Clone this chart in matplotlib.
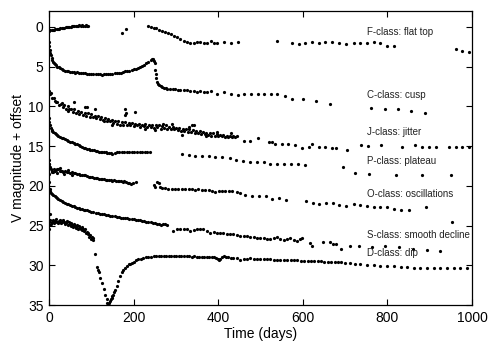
import matplotlib
matplotlib.use("Agg")
import matplotlib.pyplot as plt

plt.rcParams['font.family'] = ['Liberation Sans', 'DejaVu Sans']

# ---------------- data (days, V magnitude + offset) ----------------
f_day = [0,3,6,9,12,15,18,21,24,27,30,33,36,39,42,45,48,51,54,57,60,63,66,69,72,75,78,81,84,87,90,93,
         173,182,
         233,240,247,254,261,268,275,282,289,296,303,310,318,326,334,342,350,358,366,374,382,390,
         398,414,430,446,540,
         574,590,606,622,638,653,670,686,702,720,736,752,768,783,799,815,
         961,977,992]
f_mag = [0.50,0.45,0.42,0.38,0.35,0.30,0.28,0.25,0.22,0.20,0.15,0.12,0.10,0.08,0.05,0.02,0.00,-0.02,-0.05,-0.08,-0.10,-0.10,-0.12,-0.15,-0.18,-0.15,-0.20,-0.15,-0.12,-0.18,-0.10,-0.08,
         0.72,0.30,
         -0.13,-0.02,0.10,0.20,0.35,0.50,0.60,0.75,0.95,1.15,1.30,1.50,1.75,1.95,2.05,2.00,1.90,1.85,2.05,2.00,1.80,2.00,
         2.05,1.95,2.00,1.85,1.73,
         2.06,2.15,2.06,1.94,2.06,1.86,1.86,2.06,2.19,2.06,2.06,2.00,1.95,2.06,2.40,2.40,
         2.82,3.00,3.12]

c_day = [0,1,2,3,4,6,8,10,12,14,17,20,23,26,30,34,38,42,46,50,54,58,62,66,70,
         75,80,85,90,95,100,105,110,115,120,125,130,135,140,145,150,155,160,165,170,175,180,185,190,195,200,
         205,210,215,220,225,230,235,240,
         243,246,248,250,251,252,254,256,258,261,264,268,272,276,280,
         286,292,298,304,310,318,326,334,342,350,358,366,374,383,
         398,414,430,446,461,477,493,509,525,540,558,574,600,631,663,
         761,793,824,856,888]
c_mag = [1.86,2.40,2.90,3.30,3.60,3.90,4.20,4.40,4.55,4.70,4.85,5.00,5.10,5.20,5.35,5.45,5.50,5.55,5.60,5.65,5.65,5.70,5.75,5.72,5.78,
         5.80,5.82,5.85,5.88,5.90,5.92,5.95,5.98,5.95,5.98,6.00,5.97,5.98,5.95,5.92,5.88,5.85,5.85,5.80,5.75,5.70,5.62,5.60,5.50,5.45,5.35,
         5.30,5.20,5.10,4.95,4.80,4.60,4.40,4.20,
         4.10,4.08,4.25,4.60,5.40,5.90,6.50,6.90,7.15,7.35,7.50,7.60,7.70,7.72,7.80,
         7.82,7.85,7.88,7.90,7.92,7.96,8.00,8.10,8.05,8.17,8.10,8.15,8.17,8.05,
         8.40,8.17,8.40,8.60,8.40,8.45,8.45,8.50,8.50,8.50,8.72,9.10,9.02,9.36,9.77,
         10.20,10.30,10.30,10.60,10.90]

j_day = [0,4,8,12,16,20,24,28,32,36,40,44,48,52,56,60,64,68,72,76,80,84,88,92,96,100,104,108,112,116,
         120,124,128,132,136,140,144,148,152,156,160,164,168,172,176,180,184,188,192,196,
         200,204,208,212,216,220,224,228,232,236,240,244,248,252,256,260,264,268,272,276,
         280,284,288,292,296,300,304,308,312,316,320,324,328,332,336,340,344,348,352,356,
         360,364,368,372,376,380,384,388,392,396,400,404,408,412,416,420,424,428,432,436,440,444,
         2,14,30,46,60,85,89,109,130,150,180,180,182,204,226,250,270,290,314,330,338,342,370,398,430,
         460,476,493,519,527,535,551,566,582,598,614,622,638,653,670,678,705,738,754,785,835,866,882,898,914,945,961,977,992]
j_mag = [8.1,8.3,8.9,9.0,9.5,9.4,9.9,9.7,10.1,9.9,10.3,10.0,10.4,10.3,10.7,10.4,10.8,10.6,11.0,10.7,
         11.1,10.8,11.2,10.9,11.3,11.0,11.4,11.2,11.5,11.2,11.6,11.4,11.7,11.5,11.8,11.6,11.9,11.7,12.1,11.8,
         12.2,11.9,12.3,12.0,12.3,12.0,12.4,12.1,12.4,12.1,12.5,12.2,12.4,12.2,12.6,12.3,12.5,12.2,12.6,12.3,
         12.6,12.4,12.7,12.3,12.6,12.4,12.8,12.5,12.7,12.4,12.8,12.6,12.9,12.6,12.8,12.7,13.0,12.7,13.1,12.8,
         13.1,12.9,13.2,12.9,13.2,13.0,13.3,13.1,13.3,13.1,13.5,13.2,13.5,13.3,13.6,13.4,13.7,13.4,13.7,13.5,
         13.8,13.6,13.8,13.6,13.9,13.7,13.9,13.8,13.9,13.7,13.9,13.8,
         8.4,9.3,9.6,10.6,9.45,10.1,10.15,10.4,11.9,12.3,10.3,11.1,10.8,10.7,12.9,13.0,12.2,12.2,13.65,12.6,12.3,12.4,13.8,13.2,13.4,
         14.4,14.4,13.95,14.5,14.5,14.7,14.8,14.75,14.9,15.25,15.1,14.8,15.1,15.1,15.25,15.25,15.55,14.9,15.0,14.9,15.1,14.9,15.1,15.1,15.15,15.1,15.1,15.1,15.15]

p_day = [0,1,2,4,6,8,10,13,16,19,22,
         26,30,34,38,42,46,50,54,58,62,66,70,74,78,82,86,90,94,98,102,106,110,114,118,122,126,130,134,138,142,146,150,
         155,160,166,172,178,184,190,196,202,208,214,220,226,232,238,
         314,330,345,361,377,393,409,427,443,459,474,492,508,523,540,556,572,588,606,694,724,756,819,882,949]
p_mag = [11.5,12.0,12.4,12.7,12.95,13.1,13.2,13.4,13.5,13.6,13.7,
         13.85,13.95,14.05,14.15,14.25,14.35,14.45,14.5,14.6,14.7,14.8,14.9,15.0,15.1,15.2,15.3,15.35,15.4,15.45,15.5,15.55,15.6,15.65,15.7,15.7,15.75,15.75,15.8,15.85,15.9,15.9,15.95,
         15.85,15.8,15.8,15.75,15.75,15.7,15.75,15.7,15.7,15.75,15.7,15.75,15.75,15.8,15.75,
         16.05,16.1,16.2,16.3,16.3,16.35,16.35,16.5,16.8,16.9,16.95,16.95,16.95,17.2,17.25,17.3,17.3,17.3,17.35,17.6,18.4,18.5,18.7,18.6,18.7]

o_day = [0,1,2,4,6,8,10,13,16,19,22,25,28,31,34,
         38,42,46,50,54,58,62,66,70,74,78,82,86,90,94,98,102,106,110,114,118,122,126,130,134,138,142,146,150,154,
         158,162,166,170,174,178,182,186,190,194,198,205,
         12,20,27,36,45,55,
         247,251,255,259,263,267,275,282,290,298,306,314,322,330,338,346,353,361,369,377,385,393,401,409,417,425,
         433,444,452,464,480,496,512,527,543,560,608,623,639,655,671,686,702,720,736,752,767,783,799,815,831,850,890,953]
o_mag = [16.8,17.2,17.6,17.9,18.1,18.25,18.3,18.2,18.0,17.9,17.95,18.1,18.2,18.15,18.25,
         18.2,18.3,18.25,18.35,18.3,18.45,18.45,18.5,18.55,18.6,18.6,18.7,18.7,18.8,18.85,18.9,18.9,19.0,19.0,19.05,
         19.1,19.1,19.2,19.2,19.25,19.3,19.3,19.3,19.35,19.3,19.4,19.4,19.4,19.45,19.5,19.45,19.55,19.6,19.7,19.75,19.65,19.55,
         17.9,18.4,17.8,18.5,18.0,18.6,
         19.85,20.1,19.55,19.6,20.2,20.25,20.3,20.4,20.35,20.4,20.4,20.45,20.4,20.4,20.45,20.5,20.4,20.5,20.5,20.5,20.6,20.8,20.6,20.65,20.6,20.65,
         20.6,20.8,20.85,21.1,21.3,21.3,21.3,21.65,21.5,21.75,21.95,22.15,22.3,22.2,22.15,22.4,22.5,22.35,22.4,22.6,22.7,22.7,22.7,22.9,23.0,23.0,22.7,24.6]

s_day = [0,0.5,1,2,3,5,7,10,13,16,19,22,
         26,30,34,38,42,46,50,54,58,62,66,70,74,78,82,86,90,
         95,100,105,110,115,120,125,130,135,140,145,150,155,160,165,170,175,180,185,190,
         195,200,205,210,215,220,225,230,235,240,245,250,255,260,265,270,275,279,
         294,302,310,318,326,334,342,349,357,365,373,381,389,397,405,412,420,428,436,444,
         452,460,468,476,484,491,499,507,515,523,531,539,547,555,562,570,578,586,594,598,
         618,621,648,663,671,678,689,712,732,764,795,827,861,894,925]
s_mag = [17.2,18.5,19.5,20.4,20.7,20.9,21.0,21.15,21.3,21.45,21.6,21.7,
         21.85,21.95,22.05,22.15,22.25,22.35,22.4,22.5,22.6,22.65,22.75,22.8,22.9,22.95,23.0,23.05,23.1,
         23.2,23.25,23.3,23.4,23.45,23.5,23.55,23.6,23.65,23.7,23.75,23.8,23.85,23.9,23.95,24.0,24.0,24.05,24.1,24.15,
         24.2,24.2,24.25,24.3,24.3,24.4,24.45,24.5,24.55,24.6,24.65,24.7,24.75,24.8,24.9,24.85,24.75,24.9,
         25.65,25.45,25.5,25.45,25.5,25.65,25.55,25.5,25.45,25.45,25.75,25.9,25.85,25.9,25.95,26.0,26.1,26.1,26.1,26.2,
         26.3,26.3,26.3,26.4,26.5,26.6,26.55,26.6,26.7,26.7,26.6,26.5,26.7,26.8,26.7,26.6,26.8,26.9,26.7,26.6,
         27.15,27.55,27.05,27.1,27.3,27.35,27.9,27.55,27.6,27.7,27.6,27.7,27.9,28.1,28.2]

d_day = [0,0.5,1,2,3,5,7,9,11,13,15,17,19,21,23,25,27,29,31,33,35,37,39,41,43,45,47,49,51,53,55,57,59,61,63,65,
         67,69,71,73,75,77,79,81,83,85,87,89,91,93,95,97,99,101,103,105,
         109,113,115,117,121,125,129,133,136,138,140,142,144,146,148,150,152,154,156,160,
         164,168,172,176,180,184,188,192,196,200,205,211,217,223,229,235,241,247,253,259,
         265,271,277,283,289,295,301,307,313,319,325,331,337,343,349,355,361,367,373,379,
         385,391,395,399,401,405,409,413,418,424,430,436,444,452,460,468,476,484,491,499,
         507,515,523,531,539,547,555,563,571,579,587,595,603,611,619,627,635,643,651,659,
         667,675,683,691,700,712,724,736,752,768,783,799,815,831,847,863,878,894,910,925,
         941,957,972,988]
d_mag = [25.4,24.6,24.9,23.6,24.3,24.8,24.5,24.3,24.7,24.4,24.6,24.2,24.5,24.7,24.4,24.6,24.3,24.7,24.5,24.3,24.6,24.8,24.5,24.7,24.4,24.9,
         24.6,24.8,25.1,24.7,24.9,25.2,24.8,25.0,25.3,24.9,25.1,25.4,25.0,25.3,25.5,25.2,25.6,25.4,25.7,25.5,25.9,25.8,26.1,25.9,26.4,26.2,26.7,26.5,26.8,26.6,
         28.6,30.2,30.6,30.9,31.6,32.2,33.0,33.8,34.3,34.7,34.95,34.8,34.5,34.3,34.1,33.9,33.7,33.4,33.1,32.6,
         32.0,31.35,30.9,30.6,30.3,30.1,29.9,29.8,29.7,29.55,29.4,29.25,29.15,29.05,29.0,28.95,28.9,28.85,28.85,28.8,
         28.8,28.8,28.8,28.8,28.8,28.8,28.85,28.8,28.85,28.8,28.85,28.85,28.9,28.85,28.9,28.95,28.95,28.9,28.95,29.0,
         28.95,29.0,29.1,29.2,29.3,29.25,29.0,28.8,28.95,29.0,29.1,29.1,29.1,29.4,29.2,29.15,29.1,29.15,29.15,29.2,
         29.2,29.25,29.25,29.3,29.3,29.3,29.35,29.35,29.35,29.4,29.4,29.45,29.45,29.45,29.45,29.5,29.5,29.5,29.55,29.55,
         29.6,29.6,29.6,29.65,29.7,29.75,29.8,29.85,29.95,30.0,30.05,30.1,30.15,30.2,30.25,30.3,30.3,30.35,30.35,30.4,
         30.4,30.4,30.4,30.4]

class_labels = ["F-class: flat top", "C-class: cusp", "J-class: jitter", "P-class: plateau",
                "O-class: oscillations", "S-class: smooth decline", "D-class: dip"]
label_y = [0.7, 8.6, 13.2, 16.9, 21.0, 26.2, 28.5]
label_x = 752

x_ticks = [0, 200, 400, 600, 800, 1000]
y_ticks = [0, 5, 10, 15, 20, 25, 30, 35]

# ---------------- figure ----------------
fig = plt.figure(figsize=(4.98, 3.52), dpi=100)
ax = fig.add_axes([0.0984, 0.1335, 0.8496, 0.8355])

series = [(f_day, f_mag), (c_day, c_mag), (j_day, j_mag), (p_day, p_mag),
          (o_day, o_mag), (s_day, s_mag), (d_day, d_mag)]
for xs, ys in series:
    ax.plot(xs, ys, 'o', color='black', markersize=2.3, markeredgewidth=0, clip_on=True)

for lab, ly in zip(class_labels, label_y):
    ax.text(label_x, ly, lab, fontsize=7, color='#222222', ha='left', va='center')

ax.set_xlim(0, 1000)
ax.set_ylim(35, -2)
ax.set_xticks(x_ticks)
ax.set_yticks(y_ticks)
ax.tick_params(direction='in', top=True, right=True, length=4, width=0.8,
               labelsize=10, pad=4)
for sp in ax.spines.values():
    sp.set_linewidth(0.9)
ax.set_xlabel("Time (days)", fontsize=10, labelpad=2)
ax.set_ylabel("V magnitude + offset", fontsize=10, labelpad=2)

fig.savefig("out.png", dpi=100)
